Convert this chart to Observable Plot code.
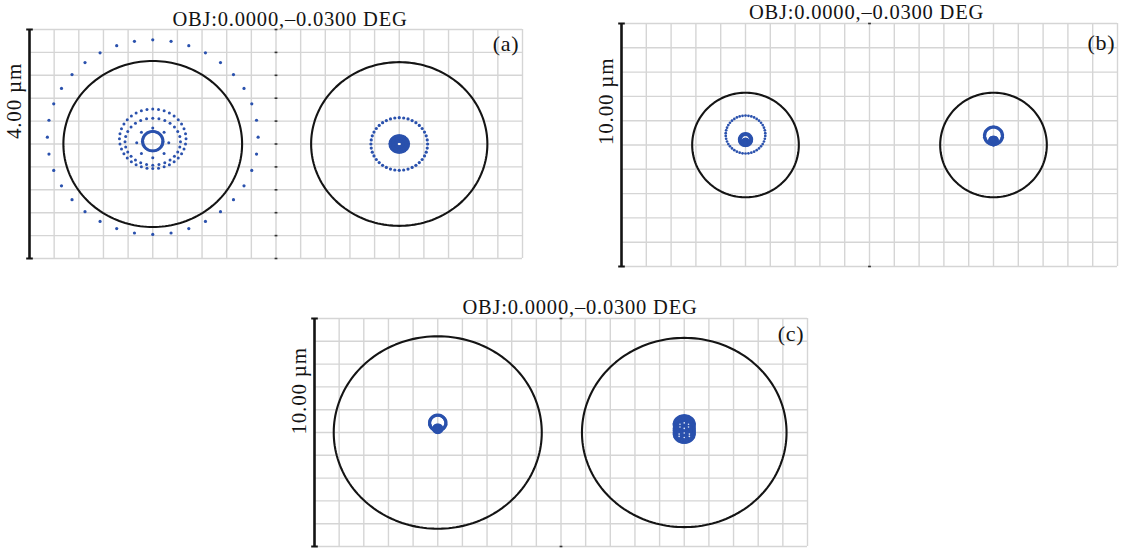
<!DOCTYPE html>
<html>
<head>
<meta charset="utf-8">
<script src="https://cdn.jsdelivr.net/npm/d3@7"></script>
<script src="https://cdn.jsdelivr.net/npm/@observablehq/plot@0.6"></script>
<style>
  html, body { margin: 0; padding: 0; background: #fff; }
  #wrap { position: relative; width: 1129px; height: 551px; overflow: hidden; }
  .panel { position: absolute; }
  .panel svg { overflow: visible; display: block; }
  .panel svg text { font-family: "Liberation Serif", "DejaVu Serif", serif; letter-spacing: 0.8px; }
</style>
</head>
<body>
<div id="wrap"></div>
<script>
// ---------------- data ----------------
const titleText = "OBJ:0.0000,\u20130.0300 DEG";
const panelLabels = ["(a)", "(b)", "(c)"];
const scaleLabels = ["4.00 \u00b5m", "10.00 \u00b5m", "10.00 \u00b5m"];

// field size of one sub-panel (µm) and grid step (µm)
const fieldSize = [4, 10, 10];
const gridStep = [0.4, 1, 1];

// Airy-disk radius (µm) for the left / right sub-panel of each figure
const airyA = [1.45, 1.43];
const airyB = [2.15, 2.15];
const airyC = [4.22, 4.15];

// spot rings: [dx, dy, rx, ry, count, dotRadius] relative to sub-panel centre (µm)
const spotsA_left = [
  [0, 0.12, 1.71, 1.70, 36, 1.6],
  [0, 0.09, 0.54, 0.52, 36, 1.5],
  [0, 0.04, 0.45, 0.41, 28, 1.5],
  [0, 0.02, 0.26, 0.26, 8, 1.5],
  [0, 0.05, 0.165, 0.17, 44, 1.6]
];
const spotsA_right = [
  [0, 0, 0.46, 0.46, 40, 1.6],
  [0, 0, 0.145, 0.14, 30, 1.9],
  [0, 0, 0.10, 0.095, 22, 1.9],
  [0, 0, 0.055, 0.05, 12, 1.8]
];
const spotsB_left = [
  [0, 0.43, 0.80, 0.78, 42, 1.35],
  [0, 0.22, 0.23, 0.23, 28, 2.0],
  [0, 0.12, 0.11, 0.11, 12, 2.0],
  [0, 0.06, 0.02, 0.02, 4, 2.0]
];
const spotsB_right = [
  [0, 0.38, 0.36, 0.36, 40, 1.7],
  [0, 0.17, 0.14, 0.14, 20, 2.0],
  [0, 0.17, 0.06, 0.06, 8, 2.0],
  [0, 0.02, 0.03, 0.03, 4, 1.6]
];
const spotsC_left = [
  [0, 0.42, 0.33, 0.34, 40, 1.7],
  [0, 0.16, 0.15, 0.15, 20, 2.0],
  [0, 0.16, 0.06, 0.06, 8, 2.0]
];
const spotsC_right = [
  [0, 0.35, 0.40, 0.38, 44, 1.8],
  [0, -0.05, 0.40, 0.38, 44, 1.8],
  [0, 0.15, 0.40, 0.36, 44, 1.8],
  [0, 0.35, 0.27, 0.26, 30, 1.8],
  [0, -0.05, 0.27, 0.26, 30, 1.8],
  [0, 0.15, 0.27, 0.26, 30, 1.8],
  [0, 0.25, 0.13, 0.14, 16, 1.8],
  [0, 0.05, 0.13, 0.14, 16, 1.8],
  [0, 0.15, 0.04, 0.04, 6, 1.8]
];
// small light details inside the densest spot: [dx, dy, rx, ry, count, dotRadius]
const highlightsC_right = [
  [0, 0.30, 0.20, 0.12, 6, 0.8],
  [0, -0.12, 0.24, 0.10, 6, 0.8]
];

// ---------------- helpers ----------------
const BLUE = "#2a51ad";
const GRID = "#d5d5d5";
const INK = "#141414";
const SERIF = "Liberation Serif";

function ringPoints(rings, x0) {
  const pts = [];
  for (const [dx, dy, rx, ry, n, dr] of rings) {
    for (let i = 0; i < n; i++) {
      const t = 2 * Math.PI * i / n;
      pts.push({x: x0 + dx + rx * Math.sin(t), y: dy + ry * Math.cos(t), r: dr});
    }
  }
  return pts;
}
function circlePoints(x0, radius) {
  return d3.range(0, 361, 2).map(a => ({
    x: x0 + radius * Math.cos(a * Math.PI / 180),
    y: radius * Math.sin(a * Math.PI / 180)
  }));
}
// horizontal bar symbol (half width = r)
const hbar = {
  draw(ctx, size) {
    const w = Math.sqrt(size / Math.PI);
    ctx.moveTo(-w, 0);
    ctx.lineTo(w, 0);
  }
};

function makePanel(cfg) {
  const half = cfg.field / 2;
  const centers = [0, cfg.field];
  const xDomain = [-half, cfg.field + half];
  const yDomain = [-half, half];
  const nx = Math.round((xDomain[1] - xDomain[0]) / cfg.step);
  const ny = Math.round((yDomain[1] - yDomain[0]) / cfg.step);
  const gridX = d3.range(0, nx + 1).map(i => xDomain[0] + i * cfg.step);
  const gridY = d3.range(0, ny + 1).map(i => yDomain[0] + i * cfg.step);
  const divider = half;
  const divTicks = (cfg.rowTicks ? gridY : [yDomain[0], yDomain[1]]).map(y => ({x: divider, y}));
  const spots = ringPoints(cfg.spots[0], centers[0]).concat(ringPoints(cfg.spots[1], centers[1]));

  const marks = [
    Plot.ruleX(gridX, {stroke: GRID, strokeWidth: 1.4}),
    Plot.ruleY(gridY, {stroke: GRID, strokeWidth: 1.4}),
    Plot.dot(divTicks, {x: "x", y: "y", symbol: hbar, r: 1.4, fill: "none", stroke: "#333", strokeWidth: 1.6}),
    Plot.ruleX([xDomain[0]], {stroke: INK, strokeWidth: 2.6}),
    Plot.dot([{x: xDomain[0], y: yDomain[0]}, {x: xDomain[0], y: yDomain[1]}],
      {x: "x", y: "y", symbol: hbar, r: 3.3, fill: "none", stroke: INK, strokeWidth: 2}),
    Plot.line(circlePoints(centers[0], cfg.airy[0]), {x: "x", y: "y", stroke: INK, strokeWidth: 2.1}),
    Plot.line(circlePoints(centers[1], cfg.airy[1]), {x: "x", y: "y", stroke: INK, strokeWidth: 2.1}),
    Plot.dot(spots, {x: "x", y: "y", r: "r", fill: BLUE, stroke: "none"})
  ];
  if (cfg.hole) {
    marks.push(Plot.dot([{x: centers[1], y: 0}], {x: "x", y: "y", r: 1.1, fill: "#fff", stroke: "none"}));
  }
  if (cfg.highlights) {
    marks.push(Plot.dot(ringPoints(cfg.highlights, centers[1]), {x: "x", y: "y", r: "r", fill: "#dfe6f5", stroke: "none"}));
  }
  marks.push(
    Plot.text([titleText], {frameAnchor: "top", dx: cfg.titleDx, dy: cfg.titleDy, fontSize: 20.5, fontFamily: SERIF, lineAnchor: "middle", fill: INK}),
    Plot.text([cfg.label], {frameAnchor: "top-right", textAnchor: "end", dx: cfg.labDx, dy: cfg.labDy, fontSize: 22, fontFamily: SERIF, lineAnchor: "middle", fill: INK}),
    Plot.text([cfg.scale], {frameAnchor: "left", rotate: -90, dx: cfg.axDx, dy: cfg.axDy, fontSize: 21, fontFamily: SERIF, lineAnchor: "middle", fill: INK})
  );

  const svg = Plot.plot({
    width: cfg.width, height: cfg.height,
    marginLeft: cfg.ml, marginRight: cfg.mr, marginTop: cfg.mt, marginBottom: cfg.mb,
    x: {domain: xDomain, axis: null},
    y: {domain: yDomain, axis: null},
    r: {type: "identity"},
    style: {background: "transparent", overflow: "visible"},
    marks
  });
  const div = document.createElement("div");
  div.className = "panel";
  div.style.left = cfg.left + "px";
  div.style.top = cfg.top + "px";
  div.appendChild(svg);
  document.getElementById("wrap").appendChild(div);
}

makePanel({
  left: 0, top: 0, width: 540, height: 270, ml: 29, mr: 18, mt: 29, mb: 12,
  field: fieldSize[0], step: gridStep[0], airy: airyA, spots: [spotsA_left, spotsA_right],
  label: panelLabels[0], scale: scaleLabels[0], rowTicks: true, hole: true,
  titleDx: 14, titleDy: -10.4, labDx: -3, labDy: 14.6, axDx: -15, axDy: -5
});
makePanel({
  left: 580, top: 0, width: 549, height: 280, ml: 41, mr: 12, mt: 23, mb: 14,
  field: fieldSize[1], step: gridStep[1], airy: airyB, spots: [spotsB_left, spotsB_right],
  label: panelLabels[1], scale: scaleLabels[1], rowTicks: false,
  titleDx: -3, titleDy: -11.1, labDx: -2, labDy: 19.5, axDx: -15, axDy: 0
});
makePanel({
  left: 270, top: 280, width: 560, height: 271, ml: 44, mr: 23, mt: 38, mb: 5,
  field: fieldSize[2], step: gridStep[2], airy: airyC, spots: [spotsC_left, spotsC_right],
  label: panelLabels[2], scale: scaleLabels[2], rowTicks: false, highlights: highlightsC_right,
  titleDx: 19, titleDy: -11.1, labDx: -3, labDy: 15.6, axDx: -15, axDy: 2
});
</script>
</body>
</html>
